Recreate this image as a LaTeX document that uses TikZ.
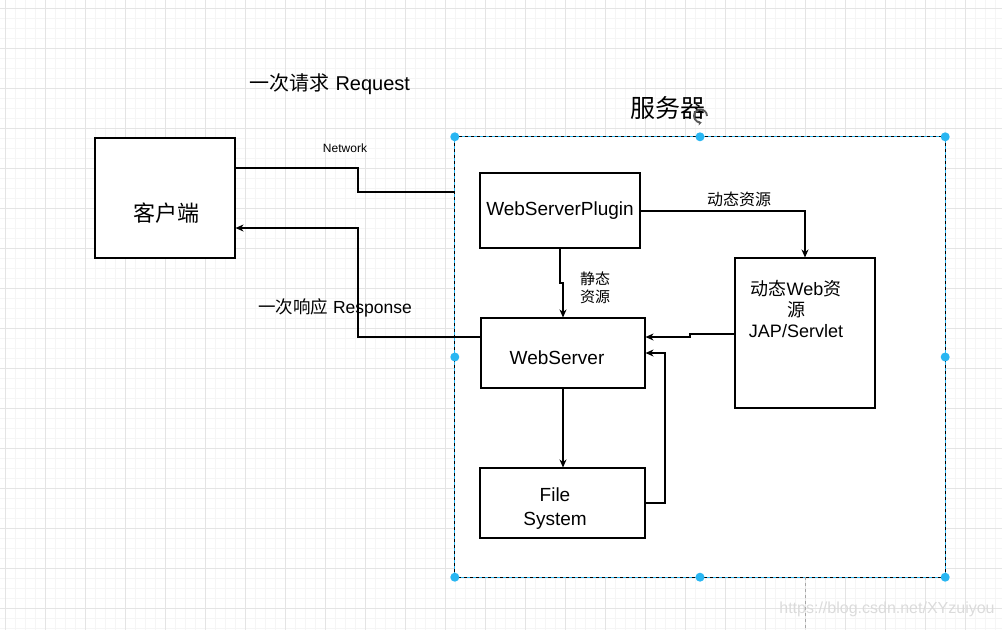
\documentclass[tikz,border=0pt]{standalone}
\usepackage{fontspec}
\setmainfont{Liberation Sans}
\newfontfamily\cjk{Noto Sans CJK SC}
\usetikzlibrary{arrows.meta}
\definecolor{selblue}{HTML}{29B6F2}
\definecolor{gridmajor}{HTML}{E4E4E4}
\definecolor{gridminor}{HTML}{F5F5F5}

\begin{document}
\begin{tikzpicture}[x=1pt, y=-1pt,
    box/.style={draw, line width=1.1pt, fill=white, inner sep=0pt},
    wire/.style={line width=1.1pt},
    arr/.style={line width=1.1pt, -{Stealth[length=8pt, width=7pt, inset=2.5pt]}},
    boxtext/.style={font=\fontsize{19}{24}\selectfont, align=center}]
\useasboundingbox (0,0) rectangle (1002,630);
% Grid
\foreach \gx in {5,15,...,1000} \draw[gridminor, line width=0.8pt] (\gx,0) -- (\gx,630);
\foreach \gy in {8,18,...,628} \draw[gridminor, line width=0.8pt] (0,\gy) -- (1002,\gy);
\foreach \gx in {5,45,...,1000} \draw[gridmajor, line width=0.9pt] (\gx,0) -- (\gx,630);
\foreach \gy in {8,48,...,628} \draw[gridmajor, line width=0.9pt] (0,\gy) -- (1002,\gy);
% Nodes
\node[box, minimum width=140pt, minimum height=120pt] (client) at (165,198) {};
\node[font=\fontsize{22}{26}\selectfont] (clienttext) at (166,213) {\cjk 客户端};
\node[fill=white, inner sep=0pt, minimum width=490pt, minimum height=440pt] (server) at (700,357) {};
\node[box, minimum width=160pt, minimum height=75pt, boxtext] (plugin) at (560,210.5) {WebServerPlugin};
\node[box, minimum width=164pt, minimum height=70pt] (websrv) at (563,353) {};
\node[boxtext] (websrvtext) at (557,358) {WebServer};
\node[box, minimum width=165pt, minimum height=70pt] (filesys) at (562.5,503) {};
\node[boxtext] (filesystext) at (555,509) {File\\System};
\node[box, minimum width=140pt, minimum height=150pt] (dyn) at (805,333) {};
\node[font=\fontsize{18}{21}\selectfont, align=center] (dyntext) at (796,309) {{\cjk 动态}Web{\cjk 资}\\{\cjk 源}\\JAP/Servlet};
% Labels
\node[font=\fontsize{25}{30}\selectfont] (srvtitle) at (668,108) {\cjk 服务器};
\node[font=\fontsize{20}{24}\selectfont] (reqlbl) at (330,84) {{\cjk 一次请求} Request};
\node[font=\fontsize{17.5}{21}\selectfont] (resplbl) at (335,308) {{\cjk 一次响应} Response};
\node[font=\fontsize{12}{14}\selectfont] (netlbl) at (345,148) {Network};
\node[font=\fontsize{16}{19}\selectfont] (dynlbl) at (739,199) {\cjk 动态资源};
\node[font=\fontsize{15}{18}\selectfont, align=center] (staticlbl) at (595,288) {\cjk 静态\\\cjk 资源};
% Selection frame
\draw[selblue, line width=1pt] (server.north west) rectangle (server.south east);
\draw[black, line width=1pt, dash pattern=on 3pt off 3pt] (server.north west) rectangle (server.south east);
\foreach \h in {north west, north, north east, west, east, south west, south, south east}
  \fill[selblue] (server.\h) circle (4.5pt);
\draw[black!35, line width=0.8pt, dash pattern=on 3pt off 3pt] (dyn.center |- server.south) -- (dyn.center |- 0,630);
\draw[black!65, line width=1.8pt, -{Stealth[length=3.5pt, width=5pt]}] (707,116) arc[start angle=0, end angle=280, radius=6.5pt];
% Arrows
\draw[wire] (client.east |- 0,168) -| (358,192) -- (server.west |- 0,192);
\draw[arr] (websrv.west |- 0,337) -| (358,228) -- (client.east |- 0,228);
\draw[arr] (plugin.east |- 0,211) -| (dyn.north);
\draw[arr] (plugin.south) -- (plugin.south |- 0,283) -| (websrv.north);
\draw[arr] (dyn.west |- 0,334) -- (690,334) -- (690,337) -- (websrv.east |- 0,337);
\draw[arr] (filesys.east) -| (665,353) -- (websrv.east);
\draw[arr] (websrv.south) -- (websrv.south |- filesys.north);
% Watermark
\node[font=\fontsize{16}{19}\selectfont, text=black!14] (wmark) at (887,609) {https://blog.csdn.net/XYzuiyou};
\end{tikzpicture}
\end{document}
